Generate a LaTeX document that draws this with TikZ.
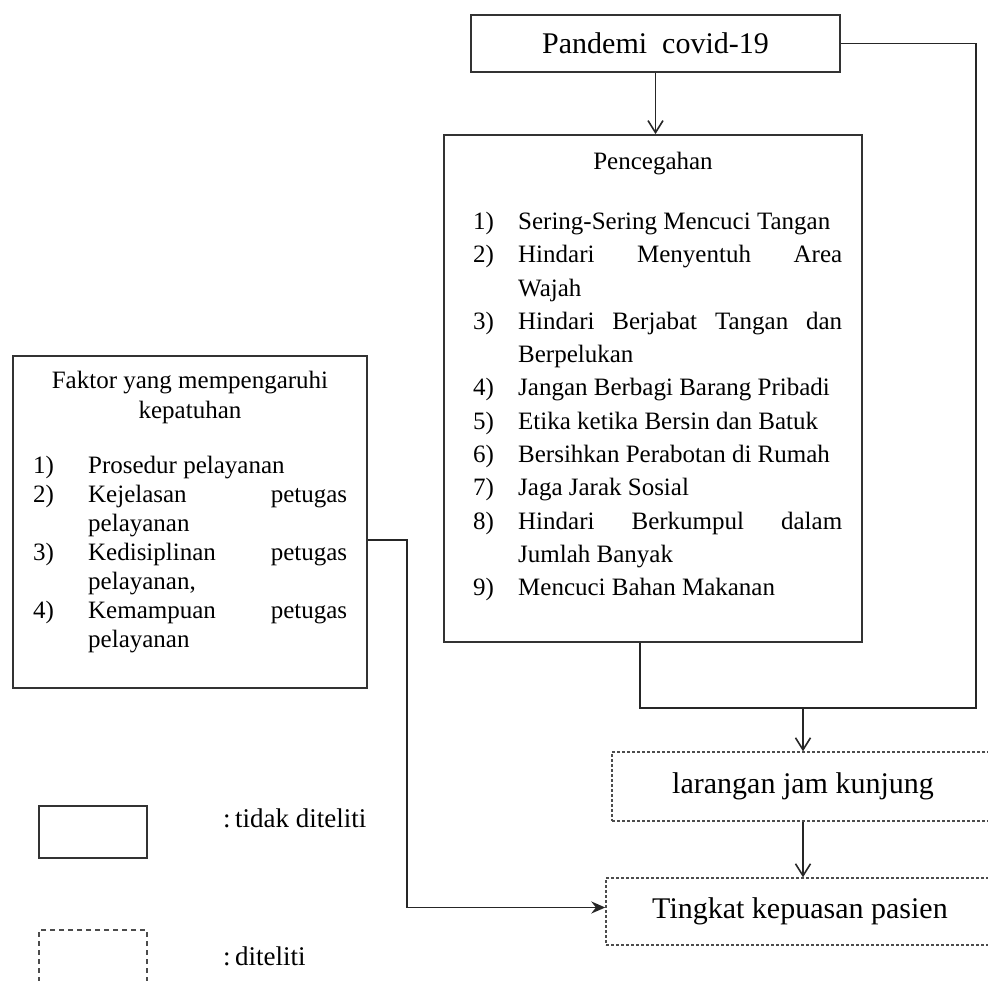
\documentclass[tikz,border=0pt]{standalone}
\usepackage{fontspec}
\setmainfont{Liberation Serif}
\usetikzlibrary{arrows.meta}

\newlength{\nomorw}
\newcommand{\butir}[2]{\par\noindent\hangindent=\nomorw\hangafter=1\makebox[\nomorw][l]{#1)}#2}

\begin{document}
\begin{tikzpicture}[x=1pt,y=-1pt,
    kotak/.style={draw=black!80, line width=1.8pt, inner sep=0pt},
    kotakputus/.style={draw=black!70, line width=1.4pt, dash pattern=on 3pt off 2pt, inner sep=0pt},
    garis/.style={draw=black!85, line width=1.8pt},
    panah/.style={garis, -{Straight Barb[length=12pt,width=15pt,line width=1.6pt]}},
    panahisi/.style={garis, -{Stealth[length=14pt,width=12pt]}},
    daftar/.style={inner sep=0pt, anchor=north west, align=justify, font=\fontsize{25}{33.3}\selectfont}]
    \useasboundingbox (0,0) rectangle (988,981);

    % kotak utama
    \node[kotak, minimum width=369pt, minimum height=57pt, font=\fontsize{30}{36}\selectfont] (pandemi) at (655.5,43.5) {Pandemi\ \ covid-19};
    \node[kotak, minimum width=418pt, minimum height=507pt] (cegah) at (653,388.5) {};
    \node[kotak, minimum width=354pt, minimum height=332pt] (faktor) at (190,522) {};
    \node[kotakputus, minimum width=382pt, minimum height=69pt, font=\fontsize{30}{36}\selectfont] (larangan) at (803,786.5) {larangan jam kunjung};
    \node[kotakputus, minimum width=388pt, minimum height=67pt, font=\fontsize{30}{36}\selectfont] (tingkat) at (800,911.5) {Tingkat kepuasan pasien};

    % isi pencegahan
    \node[inner sep=0pt, anchor=base, font=\fontsize{25}{30}\selectfont] (judulcegah) at (653,170) {Pencegahan};
    \node[daftar, text width=369pt] (isicegah) at (473,196) {\setlength{\nomorw}{45pt}%
        \butir{1}{Sering-Sering Mencuci Tangan}
        \butir{2}{Hindari Menyentuh Area\linebreak Wajah}
        \butir{3}{Hindari Berjabat Tangan dan\linebreak Berpelukan}
        \butir{4}{Jangan Berbagi Barang Pribadi}
        \butir{5}{Etika ketika Bersin dan Batuk}
        \butir{6}{Bersihkan Perabotan di Rumah}
        \butir{7}{Jaga Jarak Sosial}
        \butir{8}{Hindari Berkumpul dalam\linebreak Jumlah Banyak}
        \butir{9}{Mencuci Bahan Makanan}\par};

    % isi faktor
    \node[inner sep=0pt, anchor=north, align=center, font=\fontsize{25}{30}\selectfont] (judulfaktor) at (190,370.5) {Faktor yang mempengaruhi\\kepatuhan};
    \node[daftar, text width=314pt, font=\fontsize{25}{29}\selectfont] (isifaktor) at (33,444) {\setlength{\nomorw}{55pt}%
        \butir{1}{Prosedur pelayanan}
        \butir{2}{Kejelasan petugas\linebreak pelayanan}
        \butir{3}{Kedisiplinan petugas\linebreak pelayanan,}
        \butir{4}{Kemampuan petugas\linebreak pelayanan}\par};

    % keterangan
    \node[kotak, minimum width=108pt, minimum height=52pt] (ketsatu) at (93,832) {};
    \node[kotakputus, dash pattern=on 5pt off 4pt, minimum width=108pt, minimum height=52pt] (ketdua) at (93,956) {};
    \node[anchor=base west, inner sep=0pt, font=\fontsize{27}{32}\selectfont] (teksatu) at (223,827) {:\,tidak diteliti};
    \node[anchor=base west, inner sep=0pt, font=\fontsize{27}{32}\selectfont] (teksdua) at (223,965) {:\,diteliti};

    % penghubung
    \coordinate (kanan) at (976,708);
    \coordinate (kiri) at (640,708);
    \coordinate (belok) at (407,540);

    \draw[panah] (pandemi.south) -- (pandemi.south |- cegah.north);
    \draw[garis] (pandemi.east) -| (kanan) -- (kiri) -- (kiri |- cegah.south);
    \draw[panah] (larangan.north |- kiri) -- (larangan.north);
    \draw[panah] (larangan.south) -- (larangan.south |- tingkat.north);
    \draw[panahisi] (faktor.east |- belok) -- (belok) |- ([yshift=4pt]tingkat.west);
\end{tikzpicture}
\end{document}
